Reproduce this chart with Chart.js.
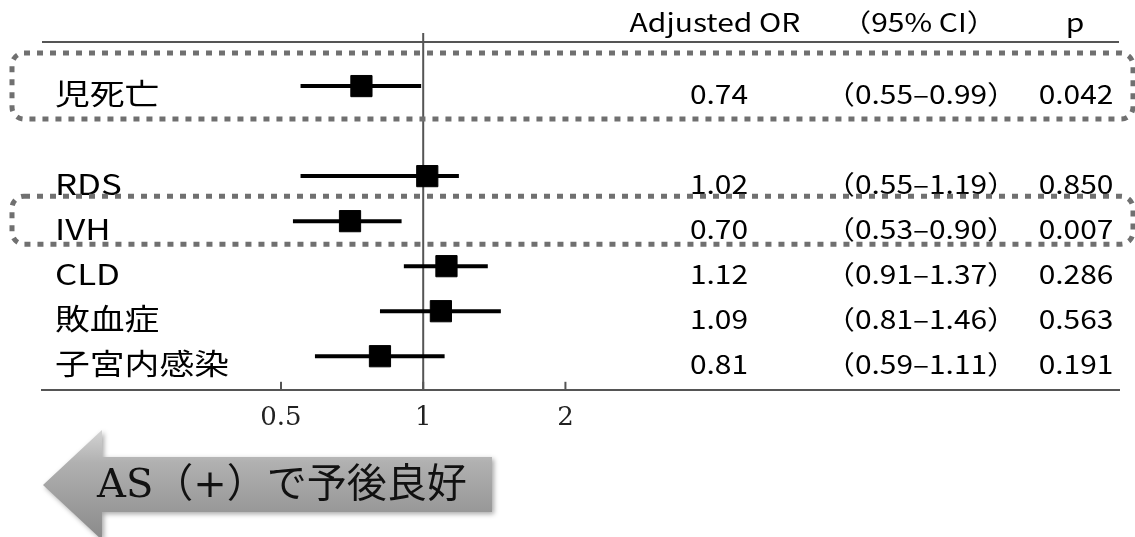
<!DOCTYPE html>
<html>
<head>
<meta charset="utf-8">
<script src="https://cdn.jsdelivr.net/npm/chart.js@4"></script>
<style>
  html, body { margin: 0; padding: 0; background: #fff; }
  #wrap { width: 1135px; height: 537px; }
</style>
</head>
<body>
<div id="wrap"><canvas id="myChart"></canvas></div>
<script>
// rows of the forest plot (the empty one is the spacer under 児死亡)
var rowLabels = ["児死亡", "", "RDS", "IVH", "CLD", "敗血症", "子宮内感染"];
var orValues = [0.74, null, 1.02, 0.70, 1.12, 1.09, 0.81];
var ciLow = [0.55, null, 0.55, 0.53, 0.91, 0.81, 0.59];
var ciHigh = [0.99, null, 1.19, 0.90, 1.37, 1.46, 1.11];
var pValues = ["0.042", "", "0.850", "0.007", "0.286", "0.563", "0.191"];
var xTicks = [0.5, 1, 2];
var highlightRows = ["児死亡", "IVH"];
var arrowText = "AS（+）で予後良好";

var SANS = "'Noto Sans CJK JP', 'Noto Sans', sans-serif";
var LINE = "#555";

// one line dataset per CI, one scatter dataset for the squares
var datasets = [];
rowLabels.forEach(function (lab, i) {
  if (orValues[i] == null) return;
  datasets.push({
    data: [{ x: ciLow[i], y: i }, { x: ciHigh[i], y: i }],
    showLine: true,
    borderColor: "#000",
    borderWidth: 4,
    pointRadius: 0,
  });
});
datasets.push({
  data: rowLabels.map(function (lab, i) {
    return orValues[i] == null ? null : { x: orValues[i], y: i };
  }).filter(function (p) { return p; }),
  pointStyle: "rect",
  pointRadius: 15,
  backgroundColor: "#000",
  borderColor: "#000",
  borderWidth: 1,
});

function stretchText(ctx, text, x, y, align, sx) {
  ctx.save();
  ctx.translate(x, y);
  ctx.scale(sx, 1);
  ctx.textAlign = align;
  ctx.fillText(text, 0, 0);
  ctx.restore();
}

function dottedBox(ctx, x1, y1, x2, y2, r) {
  ctx.save();
  ctx.strokeStyle = "#707070";
  ctx.lineWidth = 5;
  ctx.setLineDash([6, 7]);
  ctx.beginPath();
  ctx.roundRect(x1, y1, x2 - x1, y2 - y1, r);
  ctx.stroke();
  ctx.restore();
}

var forestDecor = {
  id: "forestDecor",
  beforeDatasetsDraw: function (chart) {
    var ctx = chart.ctx, a = chart.chartArea;
    var xs = chart.scales.x;
    ctx.save();
    ctx.strokeStyle = LINE;
    ctx.lineWidth = 2;
    // header rule
    ctx.beginPath();
    ctx.moveTo(a.left, a.top);
    ctx.lineTo(a.right, a.top);
    ctx.stroke();
    // reference line at OR = 1
    var x1 = xs.getPixelForValue(1);
    ctx.beginPath();
    ctx.moveTo(x1, a.top - 9);
    ctx.lineTo(x1, a.bottom);
    ctx.stroke();
    // small tick marks pointing up
    xTicks.forEach(function (v) {
      var px = xs.getPixelForValue(v);
      ctx.beginPath();
      ctx.moveTo(px, a.bottom - 8);
      ctx.lineTo(px, a.bottom);
      ctx.stroke();
    });
    ctx.restore();
  },
  afterDraw: function (chart) {
    var ctx = chart.ctx;
    var ys = chart.scales.y;
    ctx.save();
    ctx.fillStyle = "#000";
    ctx.textBaseline = "middle";

    // column headers
    ctx.font = "25px " + SANS;
    stretchText(ctx, "Adjusted OR", 715, 22, "center", 1.2);
    stretchText(ctx, "（95% CI）", 919, 22, "center", 1.2);
    stretchText(ctx, "p", 1075, 22, "center", 1.2);

    rowLabels.forEach(function (lab, i) {
      if (!lab) return;
      var y = ys.getPixelForValue(i) + 8;
      ctx.font = "29px " + SANS;
      stretchText(ctx, lab, 55, y, "left", 1.2);
      ctx.font = "26px " + SANS;
      stretchText(ctx, orValues[i].toFixed(2), 719, y, "center", 1.15);
      stretchText(ctx, "（" + ciLow[i].toFixed(2) + "–" + ciHigh[i].toFixed(2) + "）", 921, y, "center", 1.15);
      stretchText(ctx, pValues[i], 1076, y, "center", 1.15);
    });

    // dotted highlight boxes
    highlightRows.forEach(function (lab) {
      var i = rowLabels.indexOf(lab);
      var y = ys.getPixelForValue(i);
      if (i === 0) dottedBox(ctx, 12, y - 33, 1133, y + 33, 12);
      else dottedBox(ctx, 12, y - 25, 1133, y + 23, 12);
    });

    // arrow
    ctx.save();
    ctx.shadowColor = "rgba(0,0,0,0.35)";
    ctx.shadowBlur = 5;
    ctx.shadowOffsetX = 2;
    ctx.shadowOffsetY = 2;
    var g = ctx.createLinearGradient(0, 430, 0, 540);
    g.addColorStop(0, "#d4d4d4");
    g.addColorStop(0.3, "#b0b0b0");
    g.addColorStop(1, "#8a8a8a");
    ctx.fillStyle = g;
    ctx.beginPath();
    ctx.moveTo(43, 485);
    ctx.lineTo(102, 430);
    ctx.lineTo(102, 457);
    ctx.lineTo(492, 457);
    ctx.lineTo(492, 512);
    ctx.lineTo(102, 512);
    ctx.lineTo(102, 540);
    ctx.closePath();
    ctx.fill();
    ctx.restore();
    ctx.fillStyle = "#111";
    ctx.font = "40px 'DejaVu Serif', 'Noto Sans CJK JP', serif";
    ctx.textAlign = "left";
    ctx.fillText(arrowText, 97, 487);
    ctx.restore();
  },
};

var ctx = document.getElementById("myChart").getContext("2d");
var myChart = new Chart(ctx, {
  type: "scatter",
  data: { datasets: datasets },
  options: {
    responsive: true,
    maintainAspectRatio: false,
    animation: false,
    layout: { padding: { left: 42, right: 15, top: 42, bottom: 90 } },
    plugins: { legend: { display: false }, tooltip: { enabled: false } },
    scales: {
      x: {
        type: "logarithmic",
        min: 0.156,
        max: 29.7,
        afterBuildTicks: function (scale) {
          scale.ticks = xTicks.map(function (v) { return { value: v }; });
        },
        grid: { display: false, drawTicks: false },
        border: { display: true, color: LINE, width: 2 },
        ticks: {
          padding: 13,
          color: "#222",
          font: { family: "'DejaVu Serif', serif", size: 26 },
          autoSkip: false,
          maxRotation: 0,
          callback: function (v) { return String(v); },
        },
      },
      y: {
        type: "linear",
        reverse: true,
        min: -0.979,
        max: 6.746,
        display: false,
      },
    },
  },
  plugins: [forestDecor],
});
</script>
</body>
</html>
